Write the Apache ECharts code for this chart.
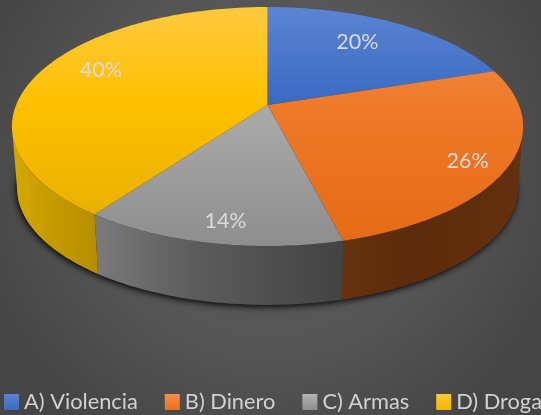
<!DOCTYPE html>
<html><head><meta charset="utf-8">
<style>html,body{margin:0;padding:0;background:#505050;overflow:hidden}#c{width:541px;height:415px}</style>
<script src="https://cdn.jsdelivr.net/npm/echarts@6/dist/echarts.min.js"></script>
</head><body><div id="c"></div>
<script>
const categories = ['A) Violencia', 'B) Dinero', 'C) Armas', 'D) Droga'];
const values = [20, 26, 14, 40];

// styles
const topStops = [
  ['#5C84D3', '#3A6AC2', '#2A55A6'],
  ['#F0915A', '#EF7A2A', '#E56A15'],
  ['#BDBDBD', '#ABABAB', '#8E8E8E'],
  ['#FFC93F', '#FFC000', '#E3AC00']
];
const wallStops = [
  ['#2A4A80', '#2A4A80', '#2A4A80'],
  ['#66320F', '#5B2B0B', '#64310E'],
  ['#7A7A7A', '#5C5C5C', '#434343'],
  ['#D6A800', '#C79C00', '#B68D00']
];
const swatchStops = [['#5B84D2','#3A6AC2'],['#F58F4E','#EC6F1A'],['#B4B4B4','#8E8E8E'],['#FFCB33','#F0B400']];
const labelRadius = [0.668, 0.842, 0.77, 0.725];
const labelShiftY = [-6, 5, 15, -10];
const wallRange = [[267, 523],[341, 523],[96, 341],[12, 99]];

// projective view of the pie's disc
const view = {cx: 267.5, cy: 105, sx: 251.4, sy: 96.74, persp: -0.18, base: {s: 0.98, y: 166.7}};
const total = values.reduce((a, b) => a + b, 0);
const frontStart = Math.acos(view.persp);
const frontEnd = 2 * Math.PI - frontStart;
function project(theta, r) {
  const u = Math.sin(theta) * r, v = -Math.cos(theta) * r;
  const d = 1 + view.persp * v;
  return [view.cx + view.sx * u / d, (view.cy + view.sy * v) / d];
}
function lower(p) {
  return [view.cx + view.base.s * (p[0] - view.cx), view.base.y + view.base.s * (p[1] - view.cy)];
}
function arc(a0, a1) {
  const n = Math.max(8, Math.ceil((a1 - a0) * 60)), out = [];
  for (let i = 0; i <= n; i++) out.push(project(a0 + (a1 - a0) * i / n, 1));
  return out;
}
function grad(x, y, x2, y2, cols) {
  return new echarts.graphic.LinearGradient(x, y, x2, y2, cols.map((c, i) => ({offset: i === 1 && cols.length === 3 ? 0.4 : i / (cols.length - 1), color: c})), true);
}

function makeSeries(i) {
  return {
    type: 'custom',
    name: categories[i],
    coordinateSystem: 'none',
    silent: true,
    animation: false,
    itemStyle: {color: new echarts.graphic.LinearGradient(0, 0, 0, 1, [{offset: 0, color: swatchStops[i][0]}, {offset: 1, color: swatchStops[i][1]}])},
    data: [values[i]],
    renderItem: function (params, api) {
      const before = values.slice(0, i).reduce((a, b) => a + b, 0);
      const a0 = before / total * 2 * Math.PI;
      const a1 = a0 + api.value(0) / total * 2 * Math.PI;
      const top = arc(a0, a1);
      const bottom = top.map(lower);
      const apex = project(0, 0);
      const mid = (a0 + a1) / 2;
      const lp = project(mid, labelRadius[i]);
      const children = [
        {type: 'polygon', z2: 1, shape: {points: [lower(apex)].concat(bottom)},
          style: {fill: '#222', shadowBlur: 6, shadowColor: 'rgba(0,0,0,0.9)', shadowOffsetX: -1, shadowOffsetY: 2}},
        {type: 'polygon', z2: 3, shape: {points: [apex].concat(top)},
          style: {fill: grad(0, 7, 0, 246, topStops[i])}},
        {type: 'text', z2: 4, style: {x: lp[0], y: lp[1] + labelShiftY[i], text: Math.round(api.value(0) / total * 100) + '%',
          fill: '#DADADA', fontFamily: 'Lato', fontSize: 21.5, textAlign: 'center', textVerticalAlign: 'middle'}}
      ];
      const w0 = Math.max(a0, frontStart), w1 = Math.min(a1, frontEnd);
      if (w1 > w0) {
        const wallTop = arc(w0, w1);
        children.push({type: 'polygon', z2: 2, shape: {points: wallTop.concat(wallTop.map(lower).reverse())},
          style: {fill: grad(wallRange[i][0], 0, wallRange[i][1], 0, wallStops[i])}});
      }
      return {type: 'group', children: children};
    }
  };
}

const chart = echarts.init(document.getElementById('c'), null, {renderer: 'canvas'});
chart.setOption({
  animation: false,
  backgroundColor: new echarts.graphic.RadialGradient(0.5, 0.4, 0.75, [
    {offset: 0, color: '#5A5A5A'}, {offset: 0.6, color: '#555555'}, {offset: 1, color: '#454545'}]),
  legend: {
    data: categories, left: 4, top: 391, width: 900, orient: 'horizontal', padding: 0,
    itemWidth: 15, itemHeight: 16, itemGap: 27, icon: 'rect', selectedMode: false,
    textStyle: {color: '#D2D2D2', fontFamily: 'Lato', fontSize: 21.8, padding: [0, 0, 0, 0]}
  },
  series: categories.map((c, i) => makeSeries(i))
});
</script></body></html>
